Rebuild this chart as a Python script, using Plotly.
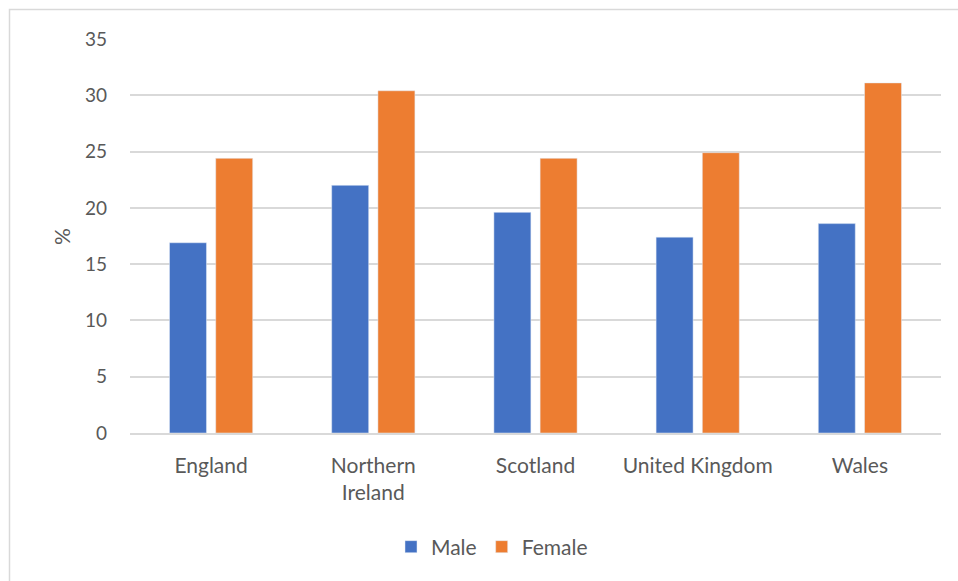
import plotly.graph_objects as go

categories = ["England", "Northern<br>Ireland", "Scotland", "United Kingdom", "Wales"]
male = [16.9, 22.0, 19.6, 17.4, 18.6]
female = [24.4, 30.4, 24.4, 24.9, 31.1]
y_ticks = [0, 5, 10, 15, 20, 25, 30, 35]

FONT = "Lato, 'Open Sans', sans-serif"
TEXT = "#595959"
GRID = "#d9d9d9"

fig = go.Figure()
fig.add_trace(go.Bar(name="Male", x=categories, y=male, marker_color="#4472C4"))
fig.add_trace(go.Bar(name="Female", x=categories, y=female, marker_color="#ED7D31"))

W, H = 958, 581
L, R, T, B = 130, 17, 39, 148
pw, ph = W - L - R, H - T - B

def px_x(x):
    return (x - L) / pw

def px_y(y):
    return (H - B - y) / ph

fig.update_layout(
    width=W, height=H,
    margin=dict(l=L, r=R, t=T, b=B),
    paper_bgcolor="white", plot_bgcolor="white",
    barmode="group", bargap=0.43, bargroupgap=0.2,
    font=dict(family=FONT, size=20, color=TEXT),
    showlegend=True,
    legend=dict(orientation="h", x=px_x(492), xanchor="center",
                y=px_y(547), yanchor="middle",
                font=dict(family=FONT, size=21, color=TEXT),
                itemwidth=30, traceorder="normal"),
    xaxis=dict(showgrid=False, showline=True, linecolor=GRID, linewidth=1.5,
               ticks="", tickfont=dict(family=FONT, size=21, color=TEXT),
               ticklabelstandoff=13),
    yaxis=dict(range=[0, 35], tickvals=y_ticks, showgrid=True, gridcolor=GRID,
               gridwidth=1.5, zeroline=False, showline=False, ticks="",
               tickfont=dict(family=FONT, size=19, color=TEXT),
               ticklabelstandoff=22),
    annotations=[dict(text="%", x=px_x(61), y=px_y(237), xref="paper", yref="paper",
                      xanchor="center", yanchor="middle",
                      showarrow=False, textangle=-90,
                      font=dict(family=FONT, size=21, color=TEXT))],
    shapes=[dict(type="rect", xref="paper", yref="paper",
                 x0=px_x(9.5), x1=px_x(990), y0=px_y(9.5), y1=px_y(600),
                 line=dict(color=GRID, width=1.5), fillcolor="rgba(0,0,0,0)",
                 layer="below")],
)

fig.write_html("out.html")
